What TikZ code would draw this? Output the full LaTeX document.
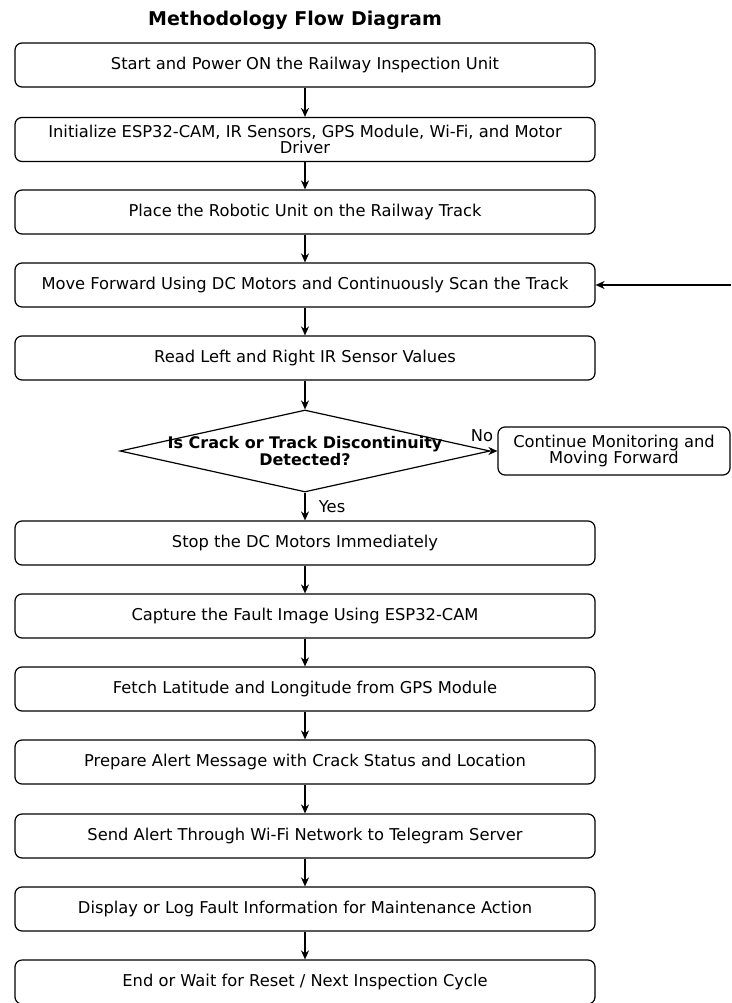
\documentclass[tikz,border=0pt]{standalone}
\usepackage{fontspec}
\setmainfont{DejaVu Sans}
\usetikzlibrary{positioning,
        shapes.geometric,
        arrows.meta}

\begin{document}
\begin{tikzpicture}[x=1pt,y=-1pt,
            stepbox/.style={rectangle,draw,rounded corners=7pt,line width=1.2pt,minimum width=580pt,minimum height=44pt,font=\fontsize{16.3}{12.5}\selectfont,align=center},
            flow/.style={-{Stealth[length=9pt,width=8pt]},line width=1.2pt}]
            \useasboundingbox (0,0) rectangle (731,1003);
            \node [font=\bfseries\fontsize{19}{19}\selectfont] (title) at (295,20) {Methodology Flow Diagram};

            \node [stepbox] (start) at (305,65) {Start and Power ON the Railway Inspection Unit};
            \node [stepbox] (init) at (305,139.5) {Initialize ESP32-CAM, IR Sensors, GPS Module, Wi-Fi, and Motor\\Driver};
            \node [stepbox] (place) at (305,212) {Place the Robotic Unit on the Railway Track};
            \node [stepbox] (move) at (305,285) {Move Forward Using DC Motors and Continuously Scan the Track};
            \node [stepbox] (read) at (305,358) {Read Left and Right IR Sensor Values};
            \node [diamond,draw,line width=1.2pt,minimum width=370pt,minimum height=82pt,inner sep=0pt] (check) at (305,451) {};
            \node [font=\bfseries\fontsize{16}{13}\selectfont,align=center] (checktext) at (check.center) {Is Crack or Track Discontinuity\\Detected?};
            \node [stepbox,minimum width=232pt,minimum height=48pt] (cont) at (614,451) {Continue Monitoring and\\Moving Forward};
            \node [font=\fontsize{16.3}{16}\selectfont] (nolabel) at (482,436) {No};
            \node [stepbox] (stop) at (305,543) {Stop the DC Motors Immediately};
            \node [stepbox] (capture) at (305,616) {Capture the Fault Image Using ESP32-CAM};
            \node [stepbox] (fetch) at (305,689) {Fetch Latitude and Longitude from GPS Module};
            \node [stepbox] (prepare) at (305,762) {Prepare Alert Message with Crack Status and Location};
            \node [stepbox] (send) at (305,836) {Send Alert Through Wi-Fi Network to Telegram Server};
            \node [stepbox] (display) at (305,909) {Display or Log Fault Information for Maintenance Action};
            \node [stepbox] (finish) at (305,982) {End or Wait for Reset / Next Inspection Cycle};
            \coordinate (loopin) at (731,285);

            \draw [flow] (start) -- (init);
            \draw [flow] (init) -- (place);
            \draw [flow] (place) -- (move);
            \draw [flow] (move) -- (read);
            \draw [flow] (read) -- (check);
            \draw [flow] (check) -- (cont);
            \draw [flow] (check) -- node [right=10pt,font=\fontsize{16.3}{16}\selectfont] {Yes} (stop);
            \draw [flow] (stop) -- (capture);
            \draw [flow] (capture) -- (fetch);
            \draw [flow] (fetch) -- (prepare);
            \draw [flow] (prepare) -- (send);
            \draw [flow] (send) -- (display);
            \draw [flow] (display) -- (finish);
            \draw [flow] (loopin) -- (move);
        \end{tikzpicture}
\end{document}
